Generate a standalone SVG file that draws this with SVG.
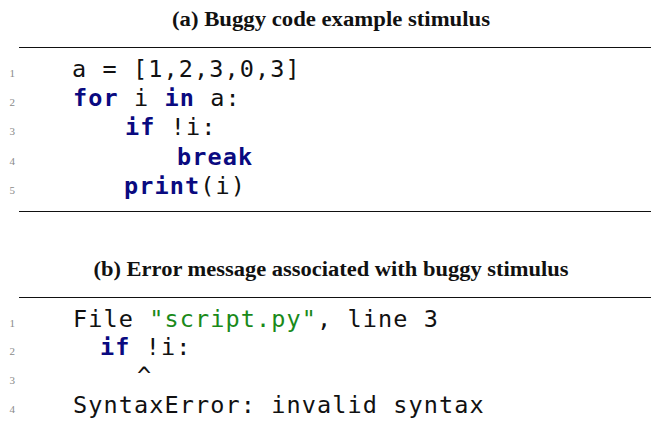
<svg xmlns="http://www.w3.org/2000/svg" width="654" height="427" viewBox="0 0 654 427">
<style>
.title{font-family:"Liberation Serif","Times New Roman",serif;font-weight:bold;font-size:20px;fill:#111;text-anchor:middle}
.code{font-family:"DejaVu Sans Mono",monospace;font-size:23.5px;letter-spacing:1.1px;fill:#111}
.kw{font-weight:bold;fill:#0a0a80}
.str{fill:#1a8a1a}
.ln{font-family:"Liberation Serif","Times New Roman",serif;font-size:11px;fill:#8a8a8a;text-anchor:end}
.rule{stroke:#111;stroke-width:1.2}
</style>
<rect width="654" height="427" fill="#fff"/>
<g id="panel-a">
  <text class="title" x="331" y="26" textLength="318" lengthAdjust="spacingAndGlyphs">(a) Buggy code example stimulus</text>
  <line class="rule" x1="19" y1="47.5" x2="651" y2="47.5"/>
  <g id="numbers-a">
    <text class="ln" x="15" y="77">1</text>
    <text class="ln" x="15" y="106">2</text>
    <text class="ln" x="15" y="135">3</text>
    <text class="ln" x="15" y="164.5">4</text>
    <text class="ln" x="15" y="194">5</text>
  </g>
  <g id="code-a" xml:space="preserve">
    <text class="code" x="72" y="77">a = [1,2,3,0,3]</text>
    <text class="code" x="73" y="106"><tspan class="kw">for</tspan> i <tspan class="kw">in</tspan> a:</text>
    <text class="code" x="125" y="135"><tspan class="kw">if</tspan> !i:</text>
    <text class="code" x="177" y="164.5"><tspan class="kw">break</tspan></text>
    <text class="code" x="124" y="194"><tspan class="kw">print</tspan>(i)</text>
  </g>
  <line class="rule" x1="19" y1="211.5" x2="651" y2="211.5"/>
</g>
<g id="panel-b">
  <text class="title" x="331" y="276" textLength="475" lengthAdjust="spacingAndGlyphs">(b) Error message associated with buggy stimulus</text>
  <line class="rule" x1="19" y1="297.5" x2="651" y2="297.5"/>
  <g id="numbers-b">
    <text class="ln" x="15" y="326.5">1</text>
    <text class="ln" x="15" y="355.3">2</text>
    <text class="ln" x="15" y="384">3</text>
    <text class="ln" x="15" y="412.8">4</text>
  </g>
  <g id="code-b" xml:space="preserve">
    <text class="code" x="73" y="326.5">File <tspan class="str">"script.py"</tspan>, line 3</text>
    <text class="code" x="100" y="355.3"><tspan class="kw">if</tspan> !i:</text>
    <text class="code" x="137" y="384">^</text>
    <text class="code" x="73" y="412.8">SyntaxError: invalid syntax</text>
  </g>
</g>
</svg>
